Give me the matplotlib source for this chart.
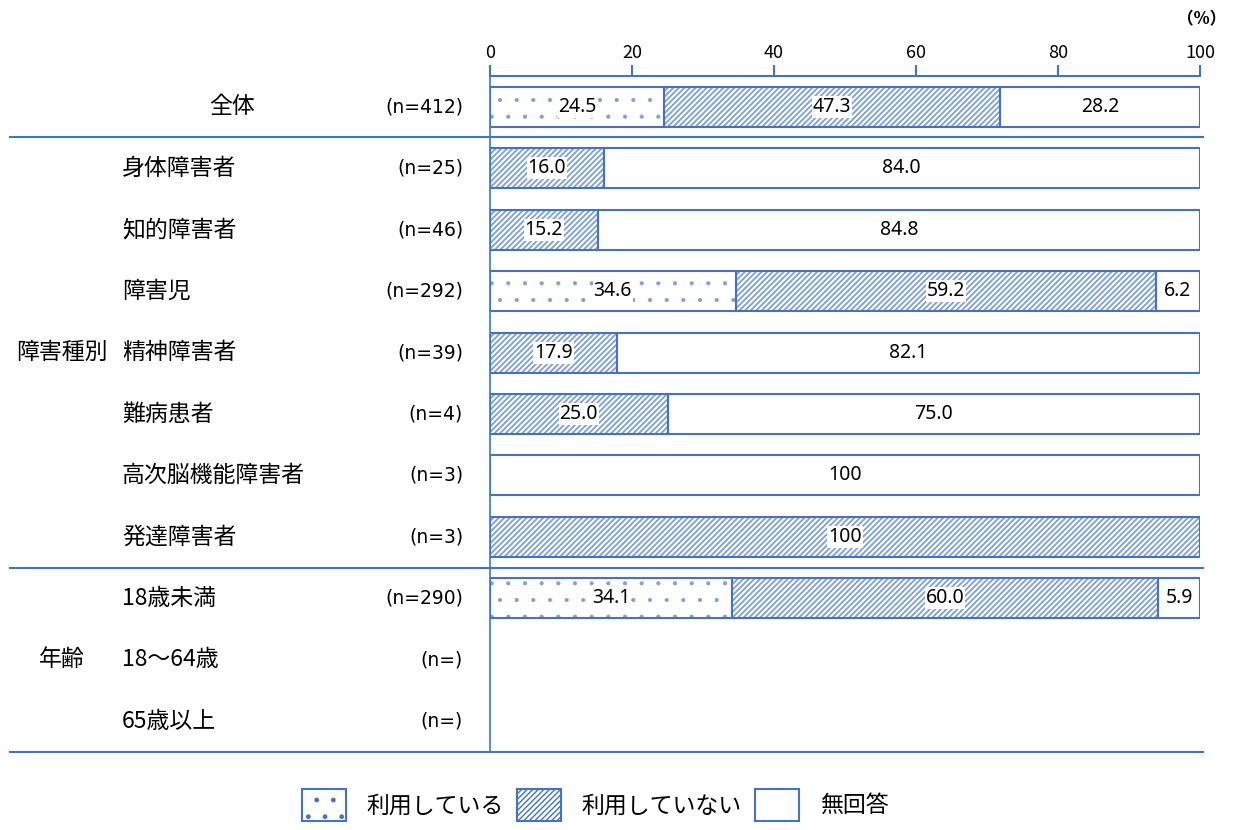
"""Stacked 100% bar chart: 利用状況 by group."""
import matplotlib
matplotlib.use("Agg")
import matplotlib.pyplot as plt
from matplotlib.patches import Patch

plt.rcParams["font.family"] = ["Noto Sans CJK JP", "DejaVu Sans"]

# data
categories = ["全体", "身体障害者", "知的障害者", "障害児", "精神障害者", "難病患者",
              "高次脳機能障害者", "発達障害者", "18歳未満", "18〜64歳", "65歳以上"]
n_labels = ["(n=412)", "(n=25)", "(n=46)", "(n=292)", "(n=39)", "(n=4)",
            "(n=3)", "(n=3)", "(n=290)", "(n=)", "(n=)"]
series = ["利用している", "利用していない", "無回答"]
using = [24.5, 0, 0, 34.6, 0, 0, 0, 0, 34.1, None, None]
not_using = [47.3, 16.0, 15.2, 59.2, 17.9, 25.0, 0, 100, 60.0, None, None]
no_answer = [28.2, 84.0, 84.8, 6.2, 82.1, 75.0, 100, 0, 5.9, None, None]
groups = [("障害種別", 4), ("年齢", 9)]

EDGE = "#4472C4"
HATCH = "#7F9FDC"
styles = [".", "//////", ""]
hatch_lw = [0.5, 1.3, 1.0]

fig = plt.figure(figsize=(12.35, 8.3), dpi=100)
W, H = 1235, 830
PX = 7.1  # pixels per percent
ax = fig.add_axes([490 / W, 1 - 752 / H, 710 / W, 676 / H])
ax.set_xlim(0, 100)
ax.set_ylim(10.5, -0.5)

bar_h = 0.65
for i, cat in enumerate(categories):
    vals = [using[i], not_using[i], no_answer[i]]
    if vals[0] is None:
        continue
    left = 0
    for v, hatch, hlw in zip(vals, styles, hatch_lw):
        if v > 0:
            # hatch layer then outline layer
            with plt.rc_context({"hatch.linewidth": hlw}):
                ax.barh(i, v, left=left, height=bar_h, color="white",
                        edgecolor=HATCH, hatch=hatch, linewidth=0)
            ax.barh(i, v, left=left, height=bar_h, color="none",
                    edgecolor=EDGE, linewidth=1.5)
            txt = "100" if v == 100 else f"{v:.1f}"
            ax.text(left + v / 2, i, txt, ha="center", va="center",
                    fontsize=14, family=["Noto Sans", "DejaVu Sans"],
                    bbox=dict(boxstyle="square,pad=0.05", fc="white",
                              ec="none"))
        left += v

# axes styling
ax.xaxis.tick_top()
ax.set_xticks([0, 20, 40, 60, 80, 100])
ax.tick_params(axis="x", direction="out", length=8, width=1.5, color=EDGE,
               labelsize=13, pad=2)
ax.tick_params(axis="y", left=False, labelleft=False)
for s in ["right", "bottom"]:
    ax.spines[s].set_visible(False)
ax.spines["top"].set_color(EDGE)
ax.spines["top"].set_linewidth(1.5)
ax.spines["left"].set_color(EDGE)
ax.spines["left"].set_linewidth(1.2)
fig.text(1226 / W, 1 - 19 / H, "（%）", ha="right", va="center",
         fontsize=12, fontweight="bold")

# separators
x_left = -480 / PX
for y in [0.5, 7.5, 10.5]:
    ax.plot([x_left, 100.4], [y, y], color=EDGE, lw=1.5, clip_on=False)

# row labels
for i, cat in enumerate(categories):
    if i == 0:
        ax.text(-258 / PX, i, cat, ha="center", va="center", fontsize=16.5)
    else:
        ax.text(-368 / PX, i, cat, ha="left", va="center", fontsize=16.5)
    ax.text(-27 / PX, i, n_labels[i], ha="right", va="center", fontsize=13.5,
            family=["DejaVu Sans"])
for name, row in groups:
    ax.text(-428 / PX, row, name, ha="center", va="center", fontsize=16.5)

# legend
handles = []
for h, hlw in zip(styles, hatch_lw):
    with plt.rc_context({"hatch.linewidth": hlw}):
        handles.append(Patch(facecolor="white", edgecolor=EDGE, hatch=h,
                             linewidth=1.5))
fig.legend(handles, series, loc="center", bbox_to_anchor=(0.482, 1 - 805 / H),
           ncol=3, frameon=False, fontsize=16.5, handlelength=1.9,
           handleheight=1.8, handletextpad=0.9, columnspacing=0.6)

fig.savefig("out.png", dpi=100)
